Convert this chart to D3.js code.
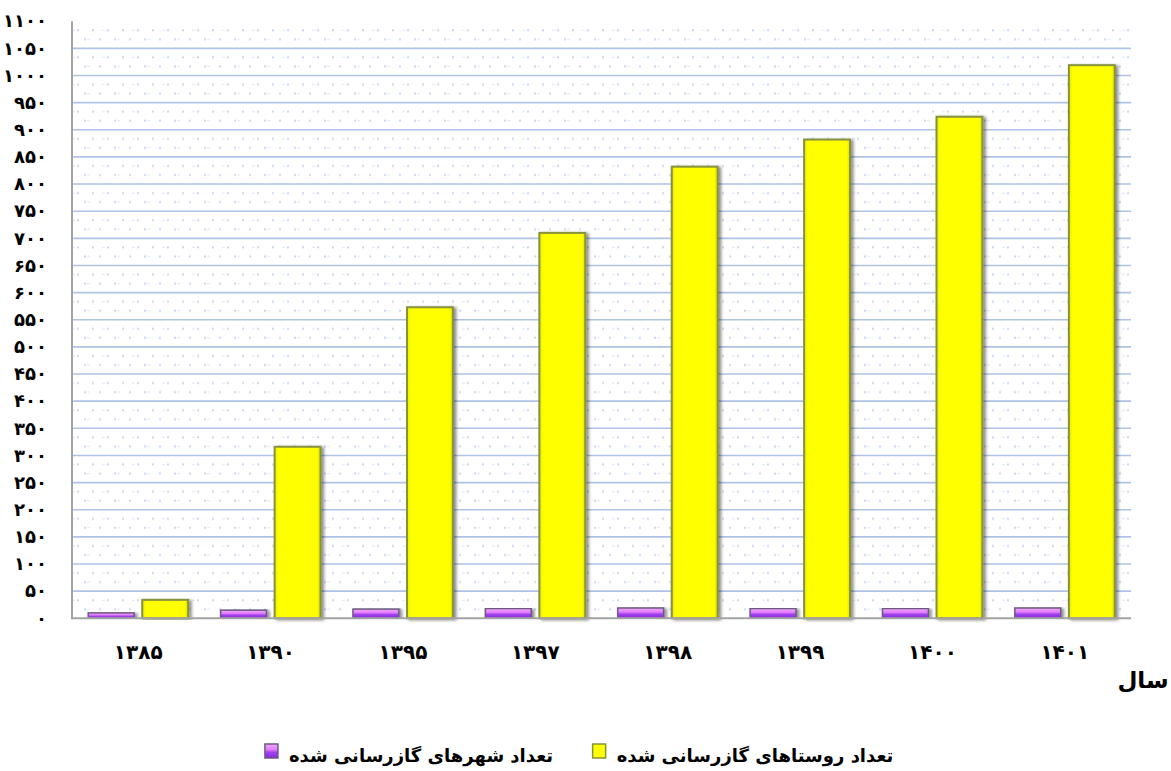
<!DOCTYPE html>
<html>
<head>
<meta charset="utf-8">
<script src="https://cdn.jsdelivr.net/npm/d3@7"></script>
<style>
html,body{margin:0;padding:0;background:#fff;}
svg{display:block;}
text{font-family:"DejaVu Sans",sans-serif;font-weight:bold;fill:#000;}
</style>
</head>
<body>
<svg id="chart" width="1171" height="771"></svg>
<script>
const years = ["۱۳۸۵","۱۳۹۰","۱۳۹۵","۱۳۹۷","۱۳۹۸","۱۳۹۹","۱۴۰۰","۱۴۰۱"];
const cities = [10, 15, 17, 18, 19, 18, 18, 19];
const villages = [34, 316, 573, 710, 832, 882, 924, 1019];
const tickValues = [0,50,100,150,200,250,300,350,400,450,500,550,600,650,700,750,800,850,900,950,1000,1050,1100];
const tickLabels = ["۰","۵۰","۱۰۰","۱۵۰","۲۰۰","۲۵۰","۳۰۰","۳۵۰","۴۰۰","۴۵۰","۵۰۰","۵۵۰","۶۰۰","۶۵۰","۷۰۰","۷۵۰","۸۰۰","۸۵۰","۹۰۰","۹۵۰","۱۰۰۰","۱۰۵۰","۱۱۰۰"];
const seriesNames = ["تعداد شهرهای گازرسانی شده","تعداد روستاهای گازرسانی شده"];
const xAxisTitle = "سال";

const svg = d3.select("#chart");
const L = 72, R = 1131, T = 21.2, B = 618.3;

const y = d3.scaleLinear().domain([0,1100]).range([B,T]);
const x0 = d3.scaleBand().domain(years).range([L,R]).padding(0);
const x1 = d3.scaleBand().domain([0,1]).range([0,x0.bandwidth()]).paddingInner(0.15).paddingOuter(0.3);

const defs = svg.append("defs");
const step = y(0)-y(50);
const pat = defs.append("pattern").attr("id","dots").attr("patternUnits","userSpaceOnUse")
  .attr("x",L).attr("y",B).attr("width",30).attr("height",step);
[[6,step/3],[21,step/3],[13,2*step/3],[28,2*step/3]].forEach(([cx,cy])=>{
  pat.append("rect").attr("x",cx-1).attr("y",cy-1).attr("width",2).attr("height",2).attr("fill","#c9d8ee");
});
[[0,step/3],[15,2*step/3]].forEach(([cx,cy])=>{
  pat.append("rect").attr("x",cx).attr("y",cy-0.5).attr("width",3).attr("height",1).attr("fill","#dde7f5");
});

const gp = defs.append("linearGradient").attr("id","purp").attr("x1",0).attr("y1",0).attr("x2",0).attr("y2",1);
gp.append("stop").attr("offset","0%").attr("stop-color","#f7a6ff");
gp.append("stop").attr("offset","40%").attr("stop-color","#e27cfb");
gp.append("stop").attr("offset","60%").attr("stop-color","#a040ee");
gp.append("stop").attr("offset","100%").attr("stop-color","#8a2be2");

const gy = defs.append("linearGradient").attr("id","yel").attr("x1",0).attr("y1",0).attr("x2",1).attr("y2",0);
gy.append("stop").attr("offset","0%").attr("stop-color","#e8e800");
gy.append("stop").attr("offset","8%").attr("stop-color","#ffff00");
gy.append("stop").attr("offset","92%").attr("stop-color","#ffff00");
gy.append("stop").attr("offset","100%").attr("stop-color","#e0e000");

const sh = defs.append("filter").attr("id","shadow").attr("x","-20%").attr("y","-5%").attr("width","140%").attr("height","110%");
sh.append("feDropShadow").attr("dx",2.5).attr("dy",1).attr("stdDeviation",1.5).attr("flood-color","#000").attr("flood-opacity",0.45);

// plot background
svg.append("rect").attr("x",L).attr("y",T).attr("width",R-L).attr("height",B-T).attr("fill","url(#dots)");

// gridlines
svg.append("g").selectAll("line").data(tickValues.filter(v=>v>0 && v<1100)).join("line")
  .attr("x1",L).attr("x2",R).attr("y1",d=>y(d)).attr("y2",d=>y(d))
  .attr("stroke","#aec3e6").attr("stroke-width",1.6);

// y axis
const yAxis = d3.axisLeft(y).tickValues(tickValues).tickSize(0).tickPadding(0)
  .tickFormat((d,i)=>tickLabels[i]);
const ga = svg.append("g").attr("transform",`translate(${L},0)`).call(yAxis);
ga.select(".domain").remove();
ga.selectAll("text").attr("x",-25).attr("font-size",18).attr("font-family","DejaVu Sans").attr("font-weight","bold").attr("fill","#000");

// x axis
const xAxis = d3.axisBottom(x0).tickSize(0).tickPadding(0);
const gx = svg.append("g").attr("transform",`translate(0,${B})`).call(xAxis);
gx.select(".domain").remove();
gx.selectAll("text").attr("y",27).attr("font-size",20).attr("font-family","DejaVu Sans").attr("font-weight","bold").attr("fill","#000");

// bars
const groups = svg.append("g").selectAll("g").data(years).join("g")
  .attr("transform",d=>`translate(${x0(d)},0)`);
groups.append("rect").attr("class","city")
  .attr("x",x1(0)).attr("width",x1.bandwidth())
  .attr("y",(d,i)=>y(cities[i])).attr("height",(d,i)=>B-y(cities[i]))
  .attr("fill","url(#purp)").attr("stroke","#6b5a80").attr("stroke-width",1.5)
  .attr("filter","url(#shadow)");
groups.append("rect").attr("class","vil")
  .attr("x",x1(1)).attr("width",x1.bandwidth())
  .attr("y",(d,i)=>y(villages[i])).attr("height",(d,i)=>B-y(villages[i]))
  .attr("fill","url(#yel)").attr("stroke","#86923e").attr("stroke-width",2)
  .attr("filter","url(#shadow)");

// axis lines
svg.append("line").attr("x1",L).attr("x2",L).attr("y1",T).attr("y2",B+1).attr("stroke","#a3a3a3").attr("stroke-width",2);
svg.append("line").attr("x1",L).attr("x2",R).attr("y1",B).attr("y2",B).attr("stroke","#a3a3a3").attr("stroke-width",2);

// x axis title
svg.append("text").attr("x",1143).attr("y",688).attr("text-anchor","middle").attr("font-size",23).text(xAxisTitle);

// legend
const legendColors = ["url(#purp)","url(#yel)"];
const legendStroke = ["#6b5a80","#86923e"];
const legendCenters = [421, 755];
seriesNames.forEach((name,i)=>{
  const t = svg.append("text").attr("x",legendCenters[i]).attr("y",762).attr("text-anchor","middle")
    .attr("font-size",18).text(name);
  const w = t.node().getComputedTextLength();
  svg.append("rect").attr("x",legendCenters[i]-w/2-24).attr("y",744).attr("width",13).attr("height",14)
    .attr("fill",legendColors[i]).attr("stroke",legendStroke[i]).attr("stroke-width",1.5);
});
</script>
</body>
</html>
